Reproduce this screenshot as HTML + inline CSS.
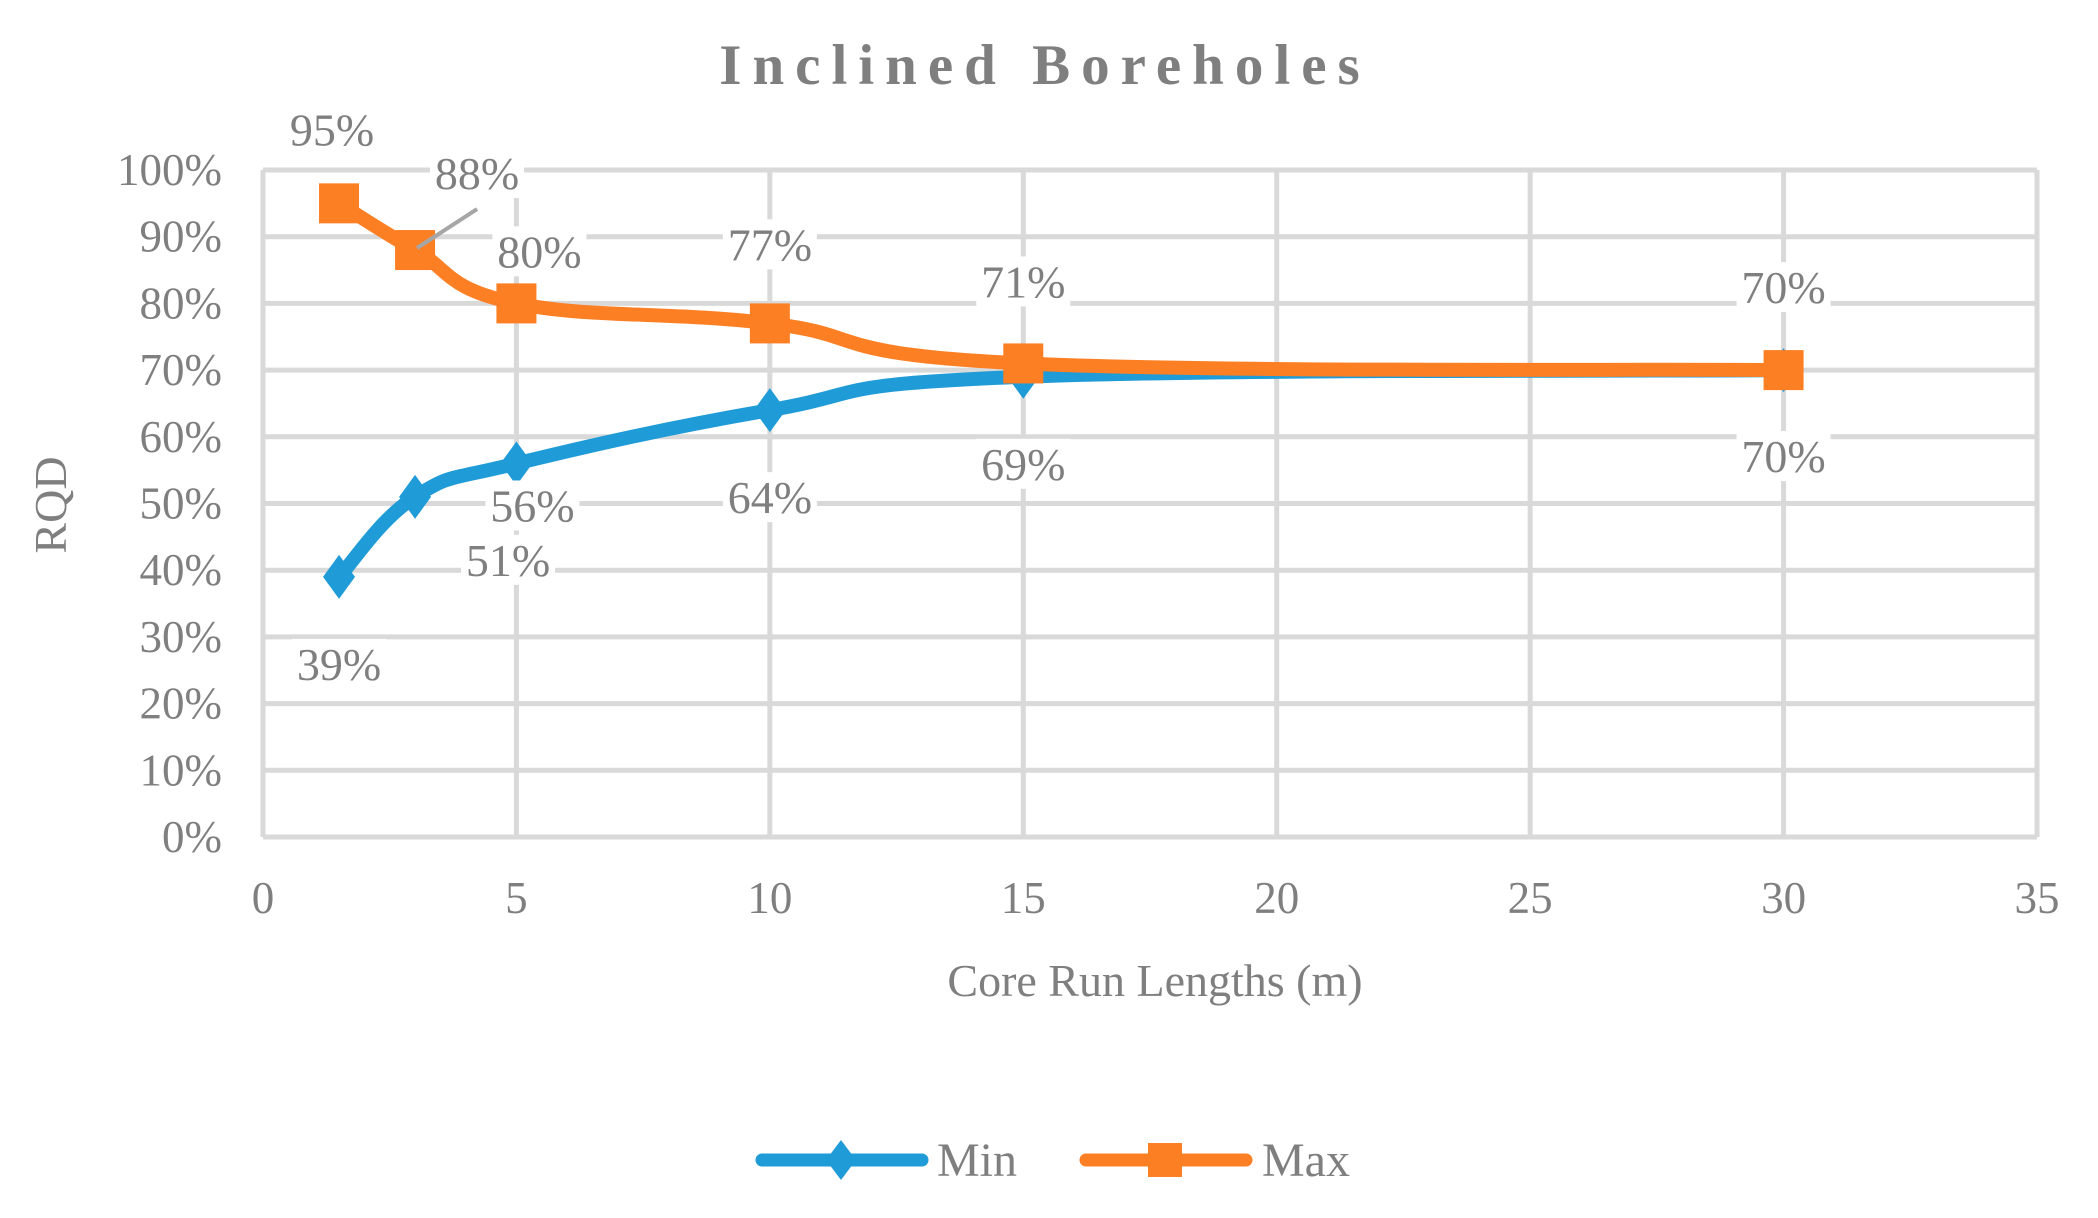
<!DOCTYPE html>
<html><head><meta charset="utf-8"><style>
html,body{margin:0;padding:0;background:#fff}
svg{display:block}
text{font-family:"Liberation Serif",serif;fill:#7f7f7f}
</style></head><body>
<svg id="chart" width="2098" height="1218" viewBox="0 0 2098 1218" xmlns="http://www.w3.org/2000/svg">
<text x="1045" y="84" text-anchor="middle" font-size="57" font-weight="bold" letter-spacing="11">Inclined Boreholes</text>
<g id="grid"></g>
<g id="ticks"></g>
<text transform="translate(66,505) rotate(-90)" text-anchor="middle" font-size="46">RQD</text>
<text x="1155" y="996" text-anchor="middle" font-size="46">Core Run Lengths (m)</text>
<g id="series"></g>
<g id="labels"></g>
<g>
 <g>
  <line x1="762" y1="1160" x2="922" y2="1160" stroke="#1f9bd7" stroke-width="13" stroke-linecap="round"/>
  <polygon points="841,1140 856,1160 841,1180 826,1160" fill="#1f9bd7"/>
  <text x="937" y="1176" font-size="48">Min</text>
 </g>
 <g>
  <line x1="1086" y1="1160" x2="1246" y2="1160" stroke="#fd7f23" stroke-width="13" stroke-linecap="round"/>
  <rect x="1148" y="1143" width="34" height="34" fill="#fd7f23"/>
  <text x="1262" y="1176" font-size="48">Max</text>
 </g>
</g>
</svg>
<script>
const xValues=[1.5,3,5,10,15,30];
const minValues=[39,51,56,64,69,70];
const maxValues=[95,88,80,77,71,70];
const xTicks=[0,5,10,15,20,25,30,35];
const yTicks=[0,10,20,30,40,50,60,70,80,90,100];
const minLabelOffsets=[[0,87],[93,63],[16,42],[0,87],[0,87],[0,86]];
const maxLabelOffsets=[[-7,-74],[62,-77],[23,-52],[0,-79],[0,-82],[0,-83]];
const NS='http://www.w3.org/2000/svg';
const X0=263,X1=2037,Y0=837,Y1=170;
const sx=v=>X0+(v-0)/35*(X1-X0);
const sy=v=>Y0-(v/100)*(Y0-Y1);
function mk(tag,attrs,parent){const e=document.createElementNS(NS,tag);for(const k in attrs)e.setAttribute(k,attrs[k]);parent.appendChild(e);return e;}
const grid=document.getElementById('grid'),ticks=document.getElementById('ticks');
yTicks.forEach(t=>{
 const l=mk('line',{x1:X0,x2:X1,y1:sy(t),y2:sy(t),stroke:'#d9d9d9','stroke-width':5},grid);
 
 
 const tx=mk('text',{x:222,y:sy(t)+15,'text-anchor':'end','font-size':45},ticks);
 tx.textContent=t+'%';
 
 
});
xTicks.forEach(t=>{
 const l=mk('line',{x1:sx(t),x2:sx(t),y1:Y1,y2:Y0,stroke:'#d9d9d9','stroke-width':5},grid);
 
 
 const tx=mk('text',{x:sx(t),y:913,'text-anchor':'middle','font-size':45},ticks);
 tx.textContent=t;
 
 
});
function smoothPath(pts){
 let d='M'+pts[0][0]+','+pts[0][1];
 for(let i=0;i<pts.length-1;i++){
  const p0=pts[i-1]||pts[i],p1=pts[i],p2=pts[i+1],p3=pts[i+2]||p2;
  const t=0.6/3;
  const c1=[p1[0]+(p2[0]-p0[0])*t,p1[1]+(p2[1]-p0[1])*t];
  const c2=[p2[0]-(p3[0]-p1[0])*t,p2[1]-(p3[1]-p1[1])*t];
  d+=' C'+c1[0]+','+c1[1]+' '+c2[0]+','+c2[1]+' '+p2[0]+','+p2[1];
 }
 return d;
}
const series=document.getElementById('series'),labels=document.getElementById('labels');
function drawSeries(vals,color,name,marker,offs){
 const pts=vals.map((v,i)=>[sx(xValues[i]),sy(v)]);
 const p=mk('path',{d:smoothPath(pts),fill:'none',stroke:color,'stroke-width':14,'stroke-linejoin':'round'},series);
 
 
 pts.forEach((q,i)=>{
  let m;
  if(marker==='square'){m=mk('rect',{x:q[0]-20,y:q[1]-20,width:40,height:40,fill:color},series);}
  else{m=mk('polygon',{points:`${q[0]},${q[1]-22} ${q[0]+16},${q[1]} ${q[0]},${q[1]+22} ${q[0]-16},${q[1]}`,fill:color},series);}
  
  
  const lx=q[0]+offs[i][0],ly=q[1]+offs[i][1];
  const bg=mk('rect',{x:lx-47,y:ly-25,width:94,height:50,fill:'#fff'},labels);
  
  
  const t=mk('text',{x:lx,y:ly+16,'text-anchor':'middle','font-size':46},labels);
  t.textContent=vals[i]+'%';
  
  
 });
 return pts;
}
drawSeries(minValues,'#1f9bd7','min','diamond',minLabelOffsets);
const mp=drawSeries(maxValues,'#fd7f23','max','square',maxLabelOffsets);
const ld=mk('line',{x1:mp[1][0]+2,y1:mp[1][1]-2,x2:mp[1][0]+62,y2:mp[1][1]-41,stroke:'#a6a6a6','stroke-width':4},labels);


</script>
</body></html>
